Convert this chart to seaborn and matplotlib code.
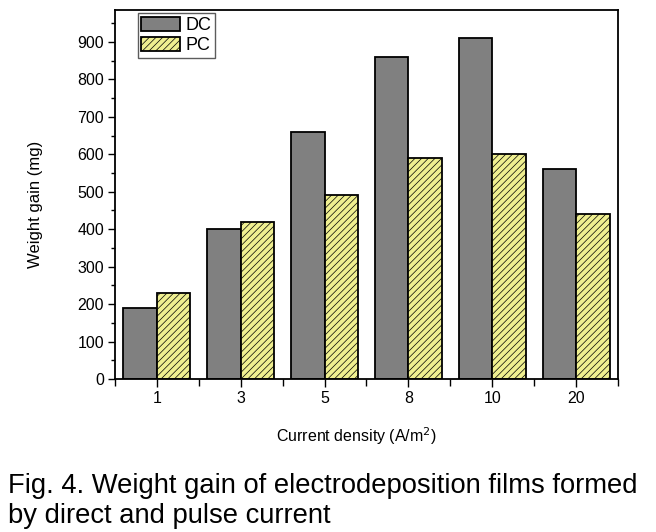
import numpy as np
import pandas as pd
import matplotlib
matplotlib.use("Agg")
import matplotlib.pyplot as plt
import seaborn as sns
from matplotlib.ticker import MultipleLocator, FixedLocator

# data
densities = ["1", "3", "5", "8", "10", "20"]
dc_gain = [190, 400, 660, 860, 910, 560]
pc_gain = [230, 420, 490, 590, 600, 440]

df = pd.DataFrame({
    "density": densities * 2,
    "gain": dc_gain + pc_gain,
    "mode": ["DC"] * len(densities) + ["PC"] * len(densities),
})

sns.set_theme(style="ticks")
plt.rcParams["font.family"] = ["Liberation Sans", "DejaVu Sans"]
plt.rcParams["hatch.linewidth"] = 0.5
plt.rcParams["hatch.color"] = "black"
plt.rcParams["text.color"] = "black"
plt.rcParams["axes.labelcolor"] = "black"

fig = plt.figure(figsize=(6.56, 5.32), dpi=100)
ax = fig.add_axes([0.1753, 0.2876, 0.7667, 0.6934])

sns.barplot(data=df, x="density", y="gain", hue="mode",
            palette={"DC": "#808080", "PC": "#FFFF80"},
            width=0.8, gap=0, edgecolor="black", linewidth=1.3,
            legend=False, ax=ax)

for bar in ax.containers[1]:
    bar.set_hatch("/////")

ax.set_xlim(-0.5, 5.5)
ax.set_ylim(0, 985)
ax.yaxis.set_major_locator(MultipleLocator(100))
ax.yaxis.set_minor_locator(MultipleLocator(50))
ax.xaxis.set_minor_locator(FixedLocator(np.arange(-0.5, 6, 1.0)))
ax.tick_params(axis="both", which="major", direction="out", length=5,
               width=1, colors="black", labelsize=11.5, pad=3)
ax.tick_params(axis="both", which="minor", direction="out", length=3,
               width=1, colors="black")
ax.tick_params(axis="x", which="major", length=6)
ax.tick_params(axis="x", which="minor", length=5)

for side in ["top", "right", "left", "bottom"]:
    ax.spines[side].set_visible(True)
    ax.spines[side].set_linewidth(1.3)
    ax.spines[side].set_color("black")

ax.set_xlabel("Current density (A/m$^2$)", fontsize=11.5)
ax.set_ylabel("Weight gain (mg)", fontsize=12)
ax.xaxis.set_label_coords(0.479, -0.125)
ax.yaxis.set_label_coords(-0.143, 0.474)

leg = ax.legend(handles=[ax.containers[0], ax.containers[1]],
                labels=["DC", "PC"], loc="upper left",
                bbox_to_anchor=(0.045, 0.992), fontsize=13,
                frameon=True, fancybox=False, handlelength=2.15,
                handleheight=0.85, handletextpad=0.3, borderpad=0.2,
                labelspacing=0.15, borderaxespad=0.0)
leg.get_frame().set_edgecolor("#333333")
leg.get_frame().set_linewidth(1.0)

fig.text(0.012, 0.073, "Fig. 4. Weight gain of electrodeposition films formed",
         fontsize=19.7, ha="left", va="baseline")
fig.text(0.012, 0.017, "by direct and pulse current",
         fontsize=19.7, ha="left", va="baseline")

fig.savefig("out.png", dpi=100)
